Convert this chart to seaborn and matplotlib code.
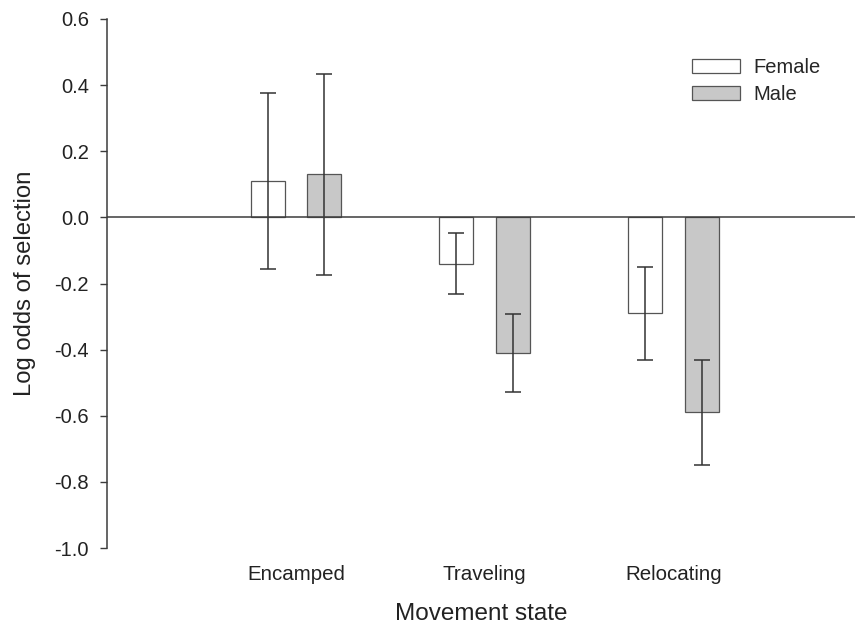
import matplotlib
matplotlib.use("Agg")
import matplotlib.pyplot as plt
import seaborn as sns
import pandas as pd

# Log odds of habitat selection by movement state and sex
categories = ["Encamped", "Traveling", "Relocating"]
sexes = ["Female", "Male"]
female_mean = [0.11, -0.14, -0.29]
female_se = [0.267, 0.092, 0.14]
male_mean = [0.13, -0.41, -0.59]
male_se = [0.304, 0.119, 0.16]
y_ticks = [-1.0, -0.8, -0.6, -0.4, -0.2, 0.0, 0.2, 0.4, 0.6]

df = pd.DataFrame({
    "state": categories * 2,
    "sex": ["Female"] * 3 + ["Male"] * 3,
    "value": female_mean + male_mean,
})

sns.set_theme(style="white")
plt.rcParams["font.family"] = ["Liberation Sans", "DejaVu Sans"]

edge = "#3c3c3c"
fig = plt.figure(figsize=(8.58, 6.28), dpi=100)
ax = fig.add_axes([107 / 858, 80 / 628, 748 / 858, 529 / 628])

sns.barplot(
    data=df, x="state", y="value", hue="sex", order=categories,
    hue_order=sexes, palette={"Female": "white", "Male": "#c8c8c8"},
    width=0.6, gap=0.4, errorbar=None, edgecolor="#555555",
    linewidth=0.9, ax=ax, zorder=2,
)

# error bars centred on the end of each bar
for cont, errs in zip(ax.containers, [female_se, male_se]):
    xs = [b.get_x() + b.get_width() / 2 for b in cont]
    ys = [b.get_y() + b.get_height() for b in cont]
    ax.errorbar(xs, ys, yerr=errs, fmt="none", ecolor="#333333",
                elinewidth=1.1, capsize=6, capthick=1.1, zorder=3)

ax.axhline(0, color=edge, lw=1.1, zorder=4)

ax.set_xlim(-1.0, 2.96)
ax.set_ylim(-1.0, 0.6)
ax.set_yticks(y_ticks)
ax.set_yticklabels([f"{v:.1f}" for v in y_ticks])

for s in ["top", "right", "bottom"]:
    ax.spines[s].set_visible(False)
ax.spines["left"].set_color(edge)
ax.spines["left"].set_linewidth(1.1)

ax.tick_params(axis="y", direction="out", length=5, width=1.0,
               color=edge, left=True, pad=8, labelsize=14.5, labelcolor="#222222")
ax.tick_params(axis="x", length=0, pad=12, labelsize=14.8, labelcolor="#222222")

ax.set_xlabel("Movement state", fontsize=17.5, color="#222222", labelpad=14)
ax.set_ylabel("Log odds of selection", fontsize=17.2, color="#222222", labelpad=13)

leg = ax.legend(
    loc="upper left", bbox_to_anchor=(692 / 858, 1 - 58 / 628),
    bbox_transform=fig.transFigure, frameon=False, fontsize=14.5,
    handlelength=2.4, handleheight=0.72, handletextpad=0.65,
    labelspacing=0.4, borderpad=0, borderaxespad=0,
)
for h in leg.legend_handles:
    h.set_edgecolor("#555555")
    h.set_linewidth(0.9)

fig.savefig("out.png", dpi=100, facecolor="white")
